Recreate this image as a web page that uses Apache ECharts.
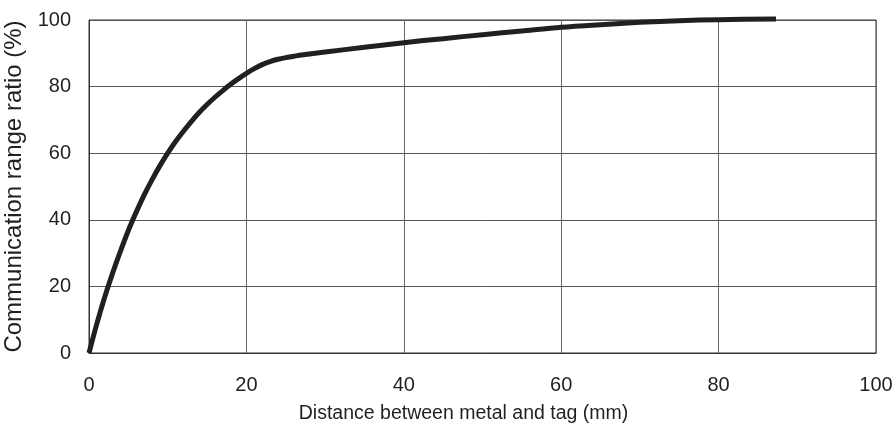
<!DOCTYPE html>
<html>
<head>
<meta charset="utf-8">
<script src="https://cdn.jsdelivr.net/npm/echarts@6/dist/echarts.min.js"></script>
<style>html,body{margin:0;padding:0;background:#fff;}#c{width:895px;height:439px;}</style>
</head>
<body>
<div id="c"></div>
<script>
const distance = [0, 1, 2, 3, 4, 5, 6, 7, 8, 9, 10, 11, 12, 13, 14, 15, 16, 17, 18, 19, 20,
  21, 22, 23, 24, 25, 26, 27, 28, 30, 35, 40, 45, 50, 55, 60, 65, 70, 75, 80, 87.3];
const ratio = [0, 8.8, 16.8, 24, 30.6, 36.8, 42.3, 47.4, 52, 56.2, 60, 63.5, 66.6, 69.5, 72.2, 74.6, 76.8, 78.8, 80.7, 82.4, 84,
  85.4, 86.6, 87.5, 88.2, 88.7, 89.1, 89.5, 89.8, 90.4, 91.8, 93.2, 94.4, 95.6, 96.7, 97.8, 98.6, 99.3, 99.8, 100.1, 100.3];
const xTicks = [0, 20, 40, 60, 80, 100];
const yTicks = [0, 20, 40, 60, 80, 100];
const xName = 'Distance between metal and tag (mm)';
const yName = 'Communication range ratio (%)';

const chart = echarts.init(document.getElementById('c'));
const font = 'Liberation Sans, Arial, sans-serif';
chart.setOption({
  animation: false,
  grid: { left: 89, right: 19, top: 20, bottom: 86, show: true, borderColor: '#333', borderWidth: 1,
    containLabel: false, outerBoundsMode: 'none' },
  xAxis: {
    type: 'value', min: 0, max: 100, interval: 20,
    name: xName, nameLocation: 'middle', nameGap: 51,
    nameTextStyle: { fontSize: 19.5, color: '#231f20', fontFamily: font, padding: [0, 38, 0, 0] },
    axisLine: { show: true, lineStyle: { color: '#333', width: 1 } },
    axisTick: { show: false },
    axisLabel: { fontSize: 20, color: '#231f20', fontFamily: font, margin: 22,
      formatter: v => xTicks.includes(v) ? String(v) : '' },
    splitLine: { show: true, lineStyle: { color: '#666', width: 1 } }
  },
  yAxis: {
    type: 'value', min: 0, max: 100, interval: 20,
    name: yName, nameLocation: 'middle', nameGap: 47,
    nameTextStyle: { fontSize: 24, color: '#231f20', fontFamily: font },
    axisLine: { show: true, lineStyle: { color: '#333', width: 1 } },
    axisTick: { show: false },
    axisLabel: { fontSize: 20, color: '#231f20', fontFamily: font, margin: 18,
      formatter: v => yTicks.includes(v) ? String(v) : '' },
    splitLine: { show: true, lineStyle: { color: '#555', width: 1 } }
  },
  series: [{
    type: 'line',
    data: distance.map((d, i) => [d, ratio[i]]),
    smooth: 0.3,
    showSymbol: false,
    clip: false,
    lineStyle: { color: '#231f20', width: 5, cap: 'butt', join: 'round' }
  }]
});
</script>
</body>
</html>
